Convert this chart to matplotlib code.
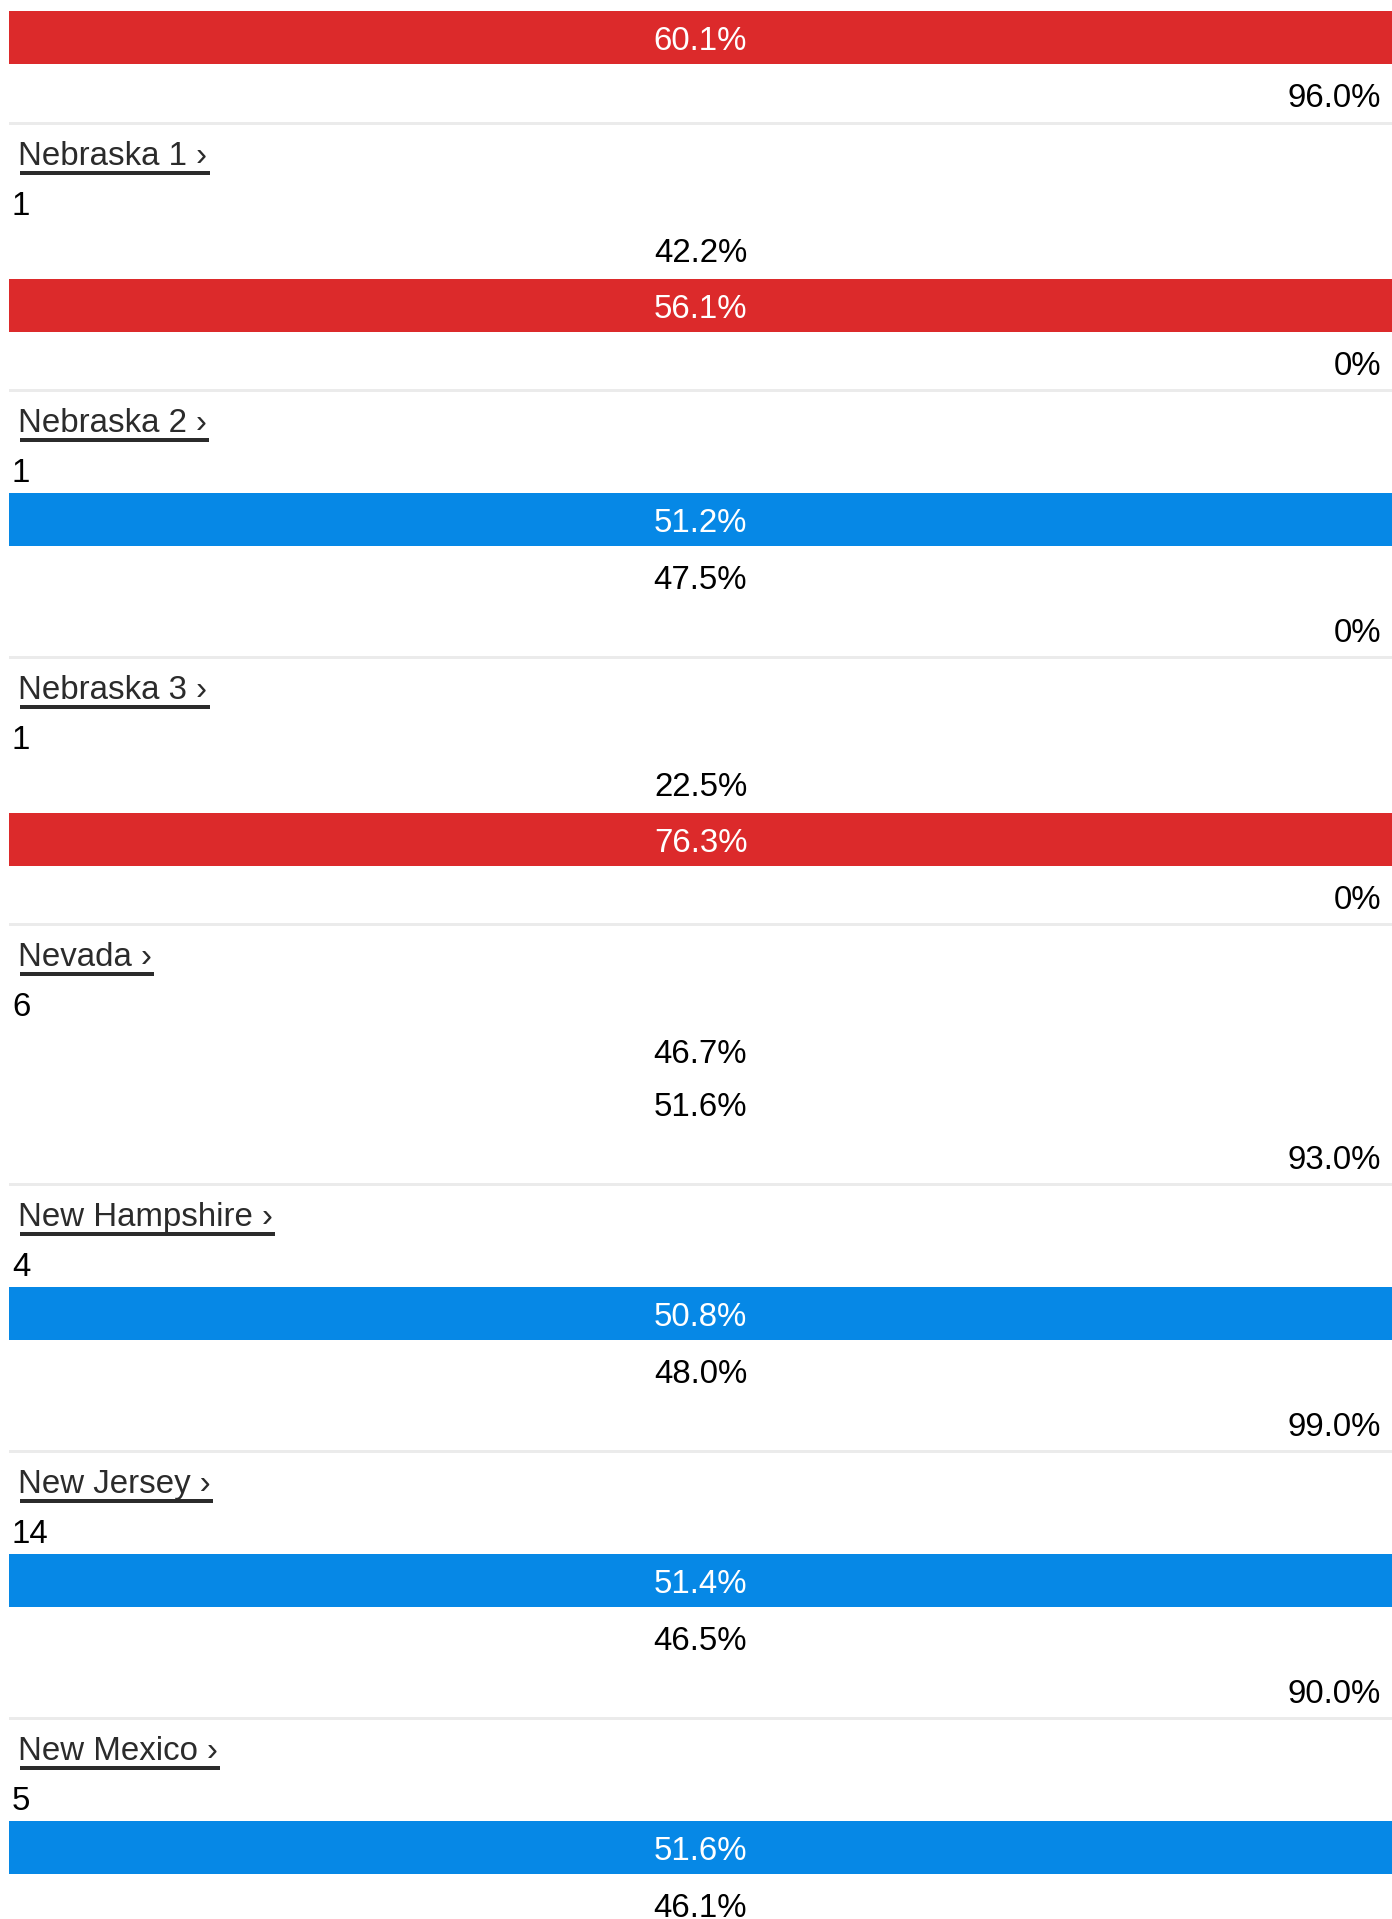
import matplotlib
matplotlib.use("Agg")
from matplotlib import pyplot as plt

# data (top block is the tail of the previous state)
states = [None, "Nebraska 1", "Nebraska 2", "Nebraska 3", "Nevada",
          "New Hampshire", "New Jersey", "New Mexico"]
electoral_votes = [None, 1, 1, 1, 6, 4, 14, 5]
dem_pct = [None, 42.2, 51.2, 22.5, 46.7, 50.8, 51.4, 51.6]
rep_pct = [60.1, 56.1, 47.5, 76.3, 51.6, 48.0, 46.5, 46.1]
reporting = ["96.0%", "0%", "0%", "0%", "93.0%", "99.0%", "90.0%", None]
winner = ["R", "R", "D", "R", None, "D", "D", "D"]

W, H = 1392, 1919
blue = "#0688e6"
red = "#dc2a2b"
sep_color = "#ebebeb"
name_color = "#2b2b2b"
fs = 23.8

plt.rcParams["font.family"] = ["Liberation Sans", "DejaVu Sans"]

fig = plt.figure(figsize=(W / 100, H / 100), dpi=100)
ax = fig.add_axes([0, 0, 1, 1])
ax.set_xlim(0, W)
ax.set_ylim(H, 0)
ax.axis("off")

left = 9
mid = (left + W) / 2
right_txt = 1381

names_drawn = []
y0 = -146  # first block starts above the top edge
for i in range(len(states)):
    if i > 0:
        # separator line at the top of each block
        ax.barh(y0 + 1.5, W - left, left=left, height=3, color=sep_color)
    if states[i] is not None:
        t = ax.text(left + 9.5, y0 + 43, states[i] + " \u203a", fontsize=fs,
                    color=name_color, va="baseline", ha="left")
        names_drawn.append((t, y0))
    if electoral_votes[i] is not None:
        ax.text(left + 3, y0 + 93, str(electoral_votes[i]), fontsize=fs,
                color="black", va="baseline", ha="left")

    y = y0 + 100
    for party, val in (("D", dem_pct[i]), ("R", rep_pct[i])):
        label = "" if val is None else "%.1f%%" % val
        if winner[i] == party:
            ax.barh(y + 4 + 26.5, W - left, left=left, height=53,
                    color=blue if party == "D" else red)
            ax.text(mid, y + 4 + 38.5, label, fontsize=fs, color="white",
                    va="baseline", ha="center")
            y += 60
        else:
            ax.text(mid, y + 40, label, fontsize=fs, color="black",
                    va="baseline", ha="center")
            y += 53
    if reporting[i] is not None:
        ax.text(right_txt, y + 40, reporting[i], fontsize=fs, color="black",
                va="baseline", ha="right")
    y += 53
    if i == 0:
        y0 = 122
    else:
        y0 = y + 1

# underline the state names (link style)
fig.canvas.draw()
r = fig.canvas.get_renderer()
inv = ax.transData.inverted()
for t, yb in names_drawn:
    bb = t.get_window_extent(renderer=r)
    (x_a, _), (x_b, _) = inv.transform([[bb.x0, bb.y0], [bb.x1, bb.y1]])
    ax.barh(yb + 51, x_b - x_a + 1, left=x_a + 1, height=3.2, color=name_color)

fig.savefig("out.png", dpi=100, facecolor="white")
